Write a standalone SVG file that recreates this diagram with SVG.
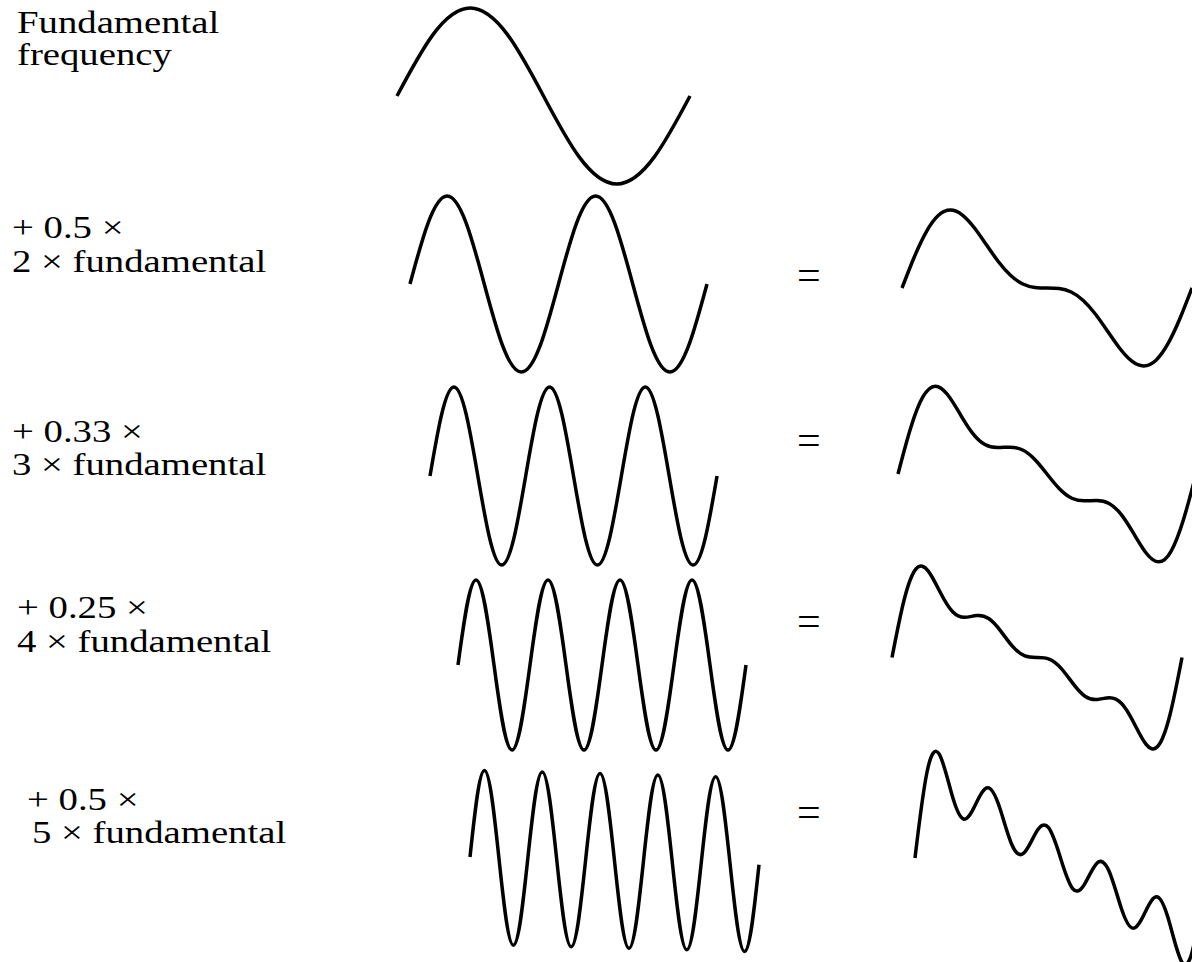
<svg xmlns="http://www.w3.org/2000/svg" width="1192" height="962" viewBox="0 0 1192 962">
<style>
.lbl{font-family:"Liberation Serif","Times New Roman",serif;font-size:31px;fill:#000}
.eq{font-family:"Liberation Serif","Times New Roman",serif;font-size:42px;fill:#000}
.w{fill:none;stroke:#000;stroke-width:3.5;stroke-linejoin:round}
</style>
<rect width="1192" height="962" fill="#fff"/>
<g id="labels">
<text class="lbl" transform="translate(17,33) scale(1.25,1)">Fundamental</text>
<text class="lbl" transform="translate(17,65) scale(1.25,1)">frequency</text>
<text class="lbl" transform="translate(12,238) scale(1.25,1)">+ 0.5 ×</text>
<text class="lbl" transform="translate(12,272) scale(1.25,1)">2 × fundamental</text>
<text class="lbl" transform="translate(12,442) scale(1.25,1)">+ 0.33 ×</text>
<text class="lbl" transform="translate(12,475) scale(1.25,1)">3 × fundamental</text>
<text class="lbl" transform="translate(17,618) scale(1.25,1)">+ 0.25 ×</text>
<text class="lbl" transform="translate(17,652) scale(1.25,1)">4 × fundamental</text>
<text class="lbl" transform="translate(27,810) scale(1.25,1)">+ 0.5 ×</text>
<text class="lbl" transform="translate(32,843) scale(1.25,1)">5 × fundamental</text>
</g>
<g id="equals">
<text class="eq" x="797" y="289">=</text>
<text class="eq" x="797" y="454">=</text>
<text class="eq" x="797" y="635">=</text>
<text class="eq" x="797" y="826">=</text>
</g>
<g id="harmonics">
<path id="h1" class="w" d="M397,96 c23.89,-45.08 46.74,-88 73.25,-88 s49.36,42.92 73.25,88 s46.74,88 73.25,88 s49.36,-42.92 73.25,-88"/>
<path id="h2" class="w" d="M410,284 c12.11,-45.08 23.69,-88 37.125,-88 s25.02,42.92 37.125,88 s23.69,88 37.125,88 s25.02,-42.92 37.125,-88 s23.69,-88 37.125,-88 s25.02,42.92 37.125,88 s23.69,88 37.125,88 s25.02,-42.92 37.125,-88"/>
<path id="h3" class="w" d="M430,476 c7.80,-45.59 15.26,-89 23.92,-89 s16.12,43.41 23.92,89 s15.26,89 23.92,89 s16.12,-43.41 23.92,-89 s15.26,-89 23.92,-89 s16.12,43.41 23.92,89 s15.26,89 23.92,89 s16.12,-43.41 23.92,-89 s15.26,-89 23.92,-89 s16.12,43.41 23.92,89 s15.26,89 23.92,89 s16.12,-43.41 23.92,-89"/>
<path id="h4" class="w" d="M458,665 c5.87,-43.55 11.49,-85 18,-85 s12.13,41.45 18,85 s11.49,85 18,85 s12.13,-41.45 18,-85 s11.49,-85 18,-85 s12.13,41.45 18,85 s11.49,85 18,85 s12.13,-41.45 18,-85 s11.49,-85 18,-85 s12.13,41.45 18,85 s11.49,85 18,85 s12.13,-41.45 18,-85 s11.49,-85 18,-85 s12.13,41.45 18,85 s11.49,85 18,85 s12.13,-41.45 18,-85"/>
<path id="h5" class="w" transform="matrix(1 0.027 0 1 0 -12.69)" d="M470,857 c4.71,-44.57 9.22,-87 14.45,-87 s9.74,42.43 14.45,87 s9.22,87 14.45,87 s9.74,-42.43 14.45,-87 s9.22,-87 14.45,-87 s9.74,42.43 14.45,87 s9.22,87 14.45,87 s9.74,-42.43 14.45,-87 s9.22,-87 14.45,-87 s9.74,42.43 14.45,87 s9.22,87 14.45,87 s9.74,-42.43 14.45,-87 s9.22,-87 14.45,-87 s9.74,42.43 14.45,87 s9.22,87 14.45,87 s9.74,-42.43 14.45,-87 s9.22,-87 14.45,-87 s9.74,42.43 14.45,87 s9.22,87 14.45,87 s9.74,-42.43 14.45,-87"/>
</g>
<g id="sums">
<path id="s2" class="w" d="M902,288 C906.03,277.53 910.05,267.06 914.08,257.47 S922.14,239.17 926.17,232.02 S934.22,219.27 938.25,215.57 S946.30,210.06 950.33,210.06 S958.39,211.87 962.42,215.05 S970.47,222.76 974.50,228 S982.55,239.16 986.58,245.05 S994.64,256.78 998.67,262.02 S1006.72,271.87 1010.75,275.57 S1018.80,282.06 1022.83,283.98 S1030.89,286.95 1034.92,287.47 S1042.97,288 1047,288 S1055.05,288.01 1059.08,288.53 S1067.14,290.10 1071.17,292.02 S1079.22,296.73 1083.25,300.43 S1091.30,308.74 1095.33,313.98 S1103.39,325.06 1107.42,330.95 S1115.47,342.76 1119.50,348 S1127.55,357.77 1131.58,360.95 S1139.64,365.94 1143.67,365.94 S1151.72,364.13 1155.75,360.43 S1163.80,351.13 1167.83,343.98 S1175.89,328.12 1179.92,318.53 S1187.97,298.47 1192,288"/>
<path id="s3" class="w" d="M898,474 C902.14,458.08 906.28,442.21 910.42,428.73 S918.69,404.23 922.83,396.96 S931.11,386.18 935.25,386.14 S943.53,389.49 947.67,394.76 S955.94,407.10 960.08,414.06 S968.36,427.81 972.50,433.13 S980.78,442.30 984.92,444.56 S993.19,447.54 997.33,447.59 S1005.61,447.10 1009.75,447.14 S1018.03,447.83 1022.17,449.78 S1030.44,454.97 1034.58,459.23 S1042.86,468.73 1047,474 S1055.28,484.51 1059.42,488.77 S1067.69,496.27 1071.83,498.22 S1080.11,500.82 1084.25,500.86 S1092.53,500.36 1096.67,500.41 S1104.94,501.18 1109.08,503.44 S1117.36,509.55 1121.50,514.87 S1129.78,526.98 1133.92,533.94 S1142.19,547.97 1146.33,553.24 S1154.61,561.90 1158.75,561.86 S1167.03,558.31 1171.17,551.04 S1179.44,532.75 1183.58,519.27 S1191.86,489.92 1196,474"/>
<path id="s4" class="w" d="M892,657.5 C896.03,636.61 900.05,615.86 904.08,599.98 S912.14,573.26 916.17,568.73 S924.22,565.88 928.25,571.08 S936.30,584.75 940.33,592.55 S948.39,607.30 952.42,611.53 S960.47,617.30 964.50,617.30 S972.55,615.94 976.58,615.55 S984.64,615.86 988.67,618.53 S996.72,625.81 1000.75,631.08 S1008.80,642.14 1012.83,646.67 S1020.89,654.39 1024.92,655.96 S1032.97,657.55 1037,657.5 S1045.05,657.47 1049.08,659.04 S1057.14,663.80 1061.17,668.33 S1069.22,678.65 1073.25,683.92 S1081.30,693.80 1085.33,696.47 S1093.39,699.84 1097.42,699.45 S1105.47,697.70 1109.50,697.70 S1117.55,699.24 1121.58,703.47 S1129.64,714.65 1133.67,722.45 S1141.72,738.72 1145.75,743.92 S1153.80,750.80 1157.83,746.27 S1165.89,730.90 1169.92,715.02 S1177.97,678.39 1182,657.5"/>
<path id="s5" class="w" d="M915,858 C919.04,824.02 923.09,790.76 927.13,771.50 S935.21,747.43 939.25,754.23 S947.34,778.34 951.38,792.79 S959.46,817.77 963.50,819.03 S971.59,812.69 975.63,804.27 S983.71,787.80 987.75,787.80 S995.84,796.04 999.88,808.29 S1007.96,835.80 1012,845.01 S1020.09,856.77 1024.13,852.79 S1032.21,838.97 1036.25,832.17 S1044.34,822.52 1048.38,827.48 S1056.46,844.96 1060.50,858 S1068.59,883.56 1072.63,888.52 S1080.71,890.63 1084.75,883.83 S1092.84,867.19 1096.88,863.21 S1104.96,861.78 1109,870.99 S1117.09,895.46 1121.13,907.71 S1129.21,928.20 1133.25,928.20 S1141.34,920.15 1145.38,911.73 S1153.46,895.71 1157.50,896.97 S1165.59,908.76 1169.63,923.21 S1177.71,954.97 1181.75,961.77 S1189.84,963.76 1193.88,944.50 S1201.96,877.98 1206,858"/>
</g>
</svg>
